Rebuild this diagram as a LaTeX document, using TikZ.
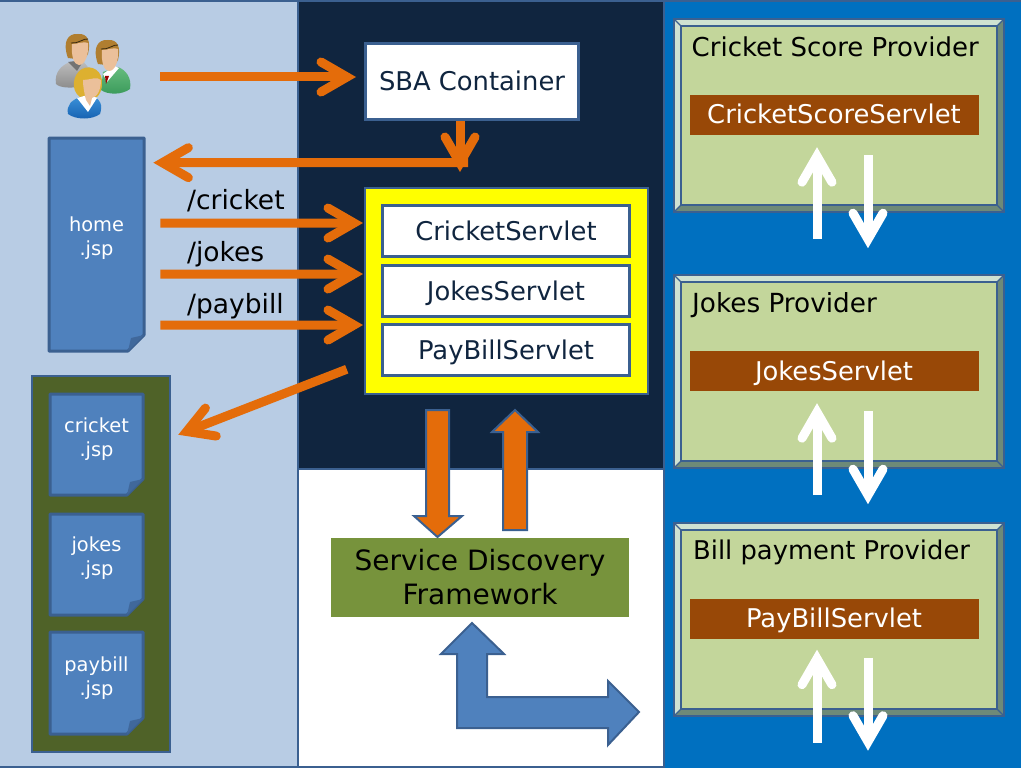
\documentclass[tikz,border=0pt]{standalone}
\usepackage{fontspec}
\setmainfont{DejaVu Sans}
\usetikzlibrary{calc}
\definecolor{bord}{HTML}{3B6090}
\definecolor{lpanel}{HTML}{B8CCE4}
\definecolor{dpanel}{HTML}{10253F}
\definecolor{rpanel}{HTML}{0070C0}
\definecolor{orng}{HTML}{E46C0A}
\definecolor{fblue}{HTML}{4F81BD}
\definecolor{grp}{HTML}{4F6228}
\definecolor{sdf}{HTML}{77933C}
\definecolor{brn}{HTML}{984807}
\definecolor{prov}{HTML}{C3D69B}
\definecolor{bevl}{HTML}{CFE2D2}
\definecolor{bevd}{HTML}{6E8A78}
\definecolor{yell}{HTML}{FFFF00}
\definecolor{skin}{HTML}{EBC09A}
\definecolor{hairb}{HTML}{B07E30}
\definecolor{hairy}{HTML}{DDB030}
\definecolor{grnt}{HTML}{66BC7E}
\definecolor{grnb}{HTML}{3A9A5A}
\definecolor{blut}{HTML}{3A90D8}
\definecolor{blub}{HTML}{1560B0}
\tikzset{
 x=1pt,y=-1pt,
 whitebox/.style={draw=bord,line width=3pt,fill=white,text=dpanel,font=\fontsize{25.8}{26}\selectfont,inner sep=0pt,text height=22pt,text depth=4pt},
 brownbox/.style={fill=brn,text=white,font=\fontsize{25.8}{26}\selectfont,inner sep=0pt,minimum width=289pt,minimum height=40pt,text height=22pt,text depth=4pt},
 ptitle/.style={anchor=base west,text=black,inner sep=0pt,font=\fontsize{26}{26}\selectfont},
 urlabel/.style={anchor=base west,text=black,inner sep=0pt,font=\fontsize{26.5}{26.5}\selectfont},
 filelabel/.style={text=white,inner sep=0pt,align=center,font=\fontsize{19.4}{24}\selectfont},
 blockarrow/.style={draw=bord,line width=2pt,miter limit=10},
 olin/.style={draw=orng,line width=9pt},
 ohead/.style={draw=orng,line width=9pt,line cap=round,miter limit=10},
 wlin/.style={draw=white,line width=9pt},
 whead/.style={draw=white,line width=9pt,line cap=round,miter limit=10},
}
% open arrow: #1 style prefix, #2 start, #3 tip
\newcommand{\openarrow}[3]{%
 \coordinate (oaS) at (#2);
 \coordinate (oaE) at (#3);
 \coordinate (oaT) at ($(oaE)!9pt!(oaS)$);
 \draw[#1lin] (oaS) -- (oaT);
 \draw[#1head] ($(oaT)!30pt!30:(oaS)$) -- (oaT) -- ($(oaT)!30pt!-30:(oaS)$);}
% document with folded corner: x1,y1,x2,y2,name
\newcommand{\jspfile}[5]{%
 \draw[draw=bord,line width=3pt,fill=fblue,line join=round] (#1,#2) -- (#3,#2) -- (#3,#4-16) -- (#3-16,#4) -- (#1,#4) -- cycle;
 \fill[bord!75!fblue] (#3-16,#4) -- (#3-13,#4-13) -- (#3,#4-16) -- cycle;
 \node[minimum width=#3-#1,minimum height=#4-#2,inner sep=0pt,anchor=north west] (#5) at (#1,#2) {};}
% bevelled provider box
\newcommand{\provbox}[5]{%
 \fill[bevl] (#1,#2) rectangle (#3,#4);
 \fill[bevd] (#1,#4) -- (#1+7,#4-7) -- (#3-7,#4-7) -- (#3-7,#2+7) -- (#3,#2) -- (#3,#4) -- cycle;
 \draw[bord,line width=2pt] (#1,#2) rectangle (#3,#4);
 \draw[bord,line width=1.2pt] (#1,#2) -- (#1+7,#2+7) (#3,#2) -- (#3-7,#2+7) (#1,#4) -- (#1+7,#4-7) (#3,#4) -- (#3-7,#4-7);
 \draw[bord,line width=2.5pt,fill=prov] (#1+7,#2+7) rectangle (#3-7,#4-7);
 \node[minimum width=#3-#1,minimum height=#4-#2,inner sep=0pt,anchor=north west] (#5) at (#1,#2) {};}
% male head, shifted
\newcommand{\manhead}[2]{%
 \begin{scope}[shift={(#1,#2)}]
 \fill[hairb] (68,58) .. controls (62,42) and (68,33) .. (78,34) .. controls (88,33) and (91,42) .. (88,54) -- (84,60) -- cycle;
 \fill[skin] (72,44) .. controls (78,44) and (84,41) .. (88,43) .. controls (89,55) and (85,65) .. (79,65) .. controls (74,65) and (71,56) .. (72,44) -- cycle;
 \draw[black!70!hairb,line width=.8pt] (71,43) .. controls (78,44) and (84,38) .. (88,39);
 \end{scope}}
\begin{document}
\begin{tikzpicture}
\useasboundingbox (0,0) rectangle (1021,768);
% panels
\fill[white] (0,0) rectangle (1021,768);
\fill[lpanel] (0,0) rectangle (297,768);
\fill[dpanel] (297,0) rectangle (664,468);
\fill[rpanel] (664,0) rectangle (1021,768);
\draw[bord,line width=2.5pt] (0,1) -- (1021,1);
\draw[bord,line width=2.5pt] (298,0) -- (298,768);
\draw[bord,line width=2.5pt] (298,469) -- (664,469);
\draw[bord,line width=2.5pt] (664,0) -- (664,768);
\draw[bord,line width=2.5pt] (0,767) -- (664,767);
% users icon
\node[inner sep=0pt,outer sep=0pt,minimum width=76pt,minimum height=86pt] (users) at (92,77) {};
\shade[top color=gray!50,bottom color=gray!90] (56,84) .. controls (54,72) and (62,65) .. (70,62) -- (82,60) -- (92,72) -- (78,87) .. controls (70,88) and (60,88) .. (56,84) -- cycle;
\fill[black!55] (68,62) -- (77,71) -- (84,60) -- cycle;
\manhead{0}{0}
\shade[top color=grnt,bottom color=grnb] (101,90) -- (103,72) -- (118,67) .. controls (126,70) and (132,78) .. (130,89) .. controls (122,95) and (108,95) .. (101,90) -- cycle;
\fill[white] (103,74) -- (107,82) -- (119,68) -- (114,66) -- cycle;
\fill[red!60!black] (105,76) -- (109,76) -- (106,84) -- cycle;
\manhead{30}{6}
\fill[hairy] (80,97) .. controls (70,90) and (73,74) .. (82,69) .. controls (92,64) and (103,71) .. (102,84) .. controls (102,90) and (100,94) .. (97,97) -- cycle;
\shade[top color=blut,bottom color=blub] (68,114) .. controls (66,105) and (72,100) .. (80,97) -- (94,97) .. controls (100,99) and (103,105) .. (100,114) .. controls (92,120) and (76,120) .. (68,114) -- cycle;
\fill[white] (77,98) -- (88,112) -- (97,98) -- (92,96) -- (84,96) -- cycle;
\fill[skin] (83,80) .. controls (90,80) and (97,76) .. (101,80) .. controls (101,90) and (97,97) .. (92,98) -- (90,106) -- (86,100) .. controls (84,92) and (83,86) .. (83,80) -- cycle;
% SBA
\node[whitebox,minimum width=213pt,minimum height=76pt] (sba) at (472,81.5) {SBA Container};
% home.jsp
\jspfile{49}{138}{144}{351}{homefile}
\node[filelabel] (homelbl) at (96.5,238) {home\\.jsp};
% group
\node[draw=bord,line width=2.5pt,fill=grp,minimum width=138pt,minimum height=376pt,inner sep=0pt] (jspgroup) at (101,564) {};
\jspfile{50}{394}{143}{495}{cricketfile}
\node[filelabel] (cricketlbl) at (96.5,439) {cricket\\.jsp};
\jspfile{50}{514}{143}{615}{jokesfile}
\node[filelabel] (jokeslbl) at (96.5,558) {jokes\\.jsp};
\jspfile{50}{632}{143}{734}{paybillfile}
\node[filelabel] (paybilllbl) at (96.5,678) {paybill\\.jsp};
% yellow container
\node[draw=bord,line width=2.5pt,fill=yell,minimum width=283pt,minimum height=206pt,inner sep=0pt] (yellowbox) at (506.5,291) {};
\node[whitebox,minimum width=247pt,minimum height=51pt] (cs) at (506,231) {CricketServlet};
\node[whitebox,minimum width=247pt,minimum height=51pt] (js) at (506,291) {JokesServlet};
\node[whitebox,minimum width=247pt,minimum height=51pt] (ps) at (506,350) {PayBillServlet};
% url labels
\node[urlabel] (l1) at (187,209) {/cricket};
\node[urlabel] (l2) at (187,261) {/jokes};
\node[urlabel] (l3) at (187,313) {/paybill};
% SDF
\node[fill=sdf,text=black,inner sep=0pt,minimum width=298pt,minimum height=79pt,align=center,font=\fontsize{28}{34}\selectfont] (sdfbox) at (480,577.5) {Service Discovery\\Framework};
% orange arrows
\openarrow{o}{$(users.east)+(30,0)$}{$(sba.west)+(-8,-4.5)$}
\openarrow{o}{$(sba.south)+(-4,41.5)$}{$(homefile.north east)+(9,24.7)$}
\openarrow{o}{$(sba.south)+(-12,0)$}{$(sba.south)+(-12,51)$}
\openarrow{o}{$(homefile.north east)+(16,85.2)$}{$(cs.west)+(-18,-8)$}
\openarrow{o}{$(homefile.north east)+(16,136.2)$}{$(js.west)+(-18,-17)$}
\openarrow{o}{$(homefile.north east)+(16,187.2)$}{$(ps.west)+(-18,-25)$}
\openarrow{o}{$(yellowbox.south west)+(-17,-26)$}{$(jspgroup.north east)+(7,60)$}
% block arrows
\draw[blockarrow,fill=orng] (426,410) -- (449,410) -- (449,516) -- (462,516) -- (437.5,537) -- (414,516) -- (426,516) -- cycle;
\draw[blockarrow,fill=orng] (503,530) -- (527,530) -- (527,432) -- (538,432) -- (515,410) -- (492,432) -- (503,432) -- cycle;
\draw[blockarrow,fill=fblue] (472,623) -- (504,654) -- (487,654) -- (487,697) -- (608,697) -- (608,681) -- (639,712) -- (608,745) -- (608,728) -- (457,728) -- (457,654) -- (441,654) -- cycle;
% providers
\provbox{674}{19}{1004}{212}{p1}
\node[ptitle] (t1) at (691.5,56.5) {Cricket Score Provider};
\node[brownbox] (b1) at (834,115) {CricketScoreServlet};
\provbox{674}{275}{1004}{468}{p2}
\node[ptitle,font=\fontsize{26.3}{26}\selectfont] (t2) at (692,312) {Jokes Provider};
\node[brownbox] (b2) at (834,371) {JokesServlet};
\provbox{674}{523}{1004}{716}{p3}
\node[ptitle,font=\fontsize{25.8}{26}\selectfont] (t3) at (693,559) {Bill payment Provider};
\node[brownbox] (b3) at (834,618.5) {PayBillServlet};
% white arrows
\openarrow{w}{$(b1.south)+(-17,104)$}{$(b1.south)+(-17,12)$}
\openarrow{w}{$(b1.south)+(34,20)$}{$(b1.south)+(34,113)$}
\openarrow{w}{$(b2.south)+(-17,104)$}{$(b2.south)+(-17,12)$}
\openarrow{w}{$(b2.south)+(34,20)$}{$(b2.south)+(34,113)$}
\openarrow{w}{$(b3.south)+(-17,104)$}{$(b3.south)+(-17,11)$}
\openarrow{w}{$(b3.south)+(34,19)$}{$(b3.south)+(34,112)$}
\end{tikzpicture}
\end{document}
